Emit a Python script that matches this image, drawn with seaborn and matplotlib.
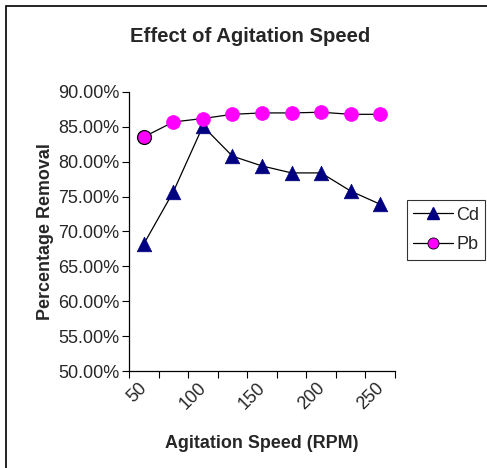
import matplotlib
matplotlib.use("Agg")
import matplotlib.pyplot as plt
import matplotlib.transforms as mtransforms
from matplotlib.lines import Line2D
from matplotlib.patches import Rectangle
from matplotlib.ticker import FixedLocator, PercentFormatter
import seaborn as sns
import pandas as pd

speeds = [50, 75, 100, 125, 150, 175, 200, 225, 250]
cd_removal = [68.2, 75.7, 85.1, 80.8, 79.4, 78.4, 78.4, 75.8, 73.9]
pb_removal = [83.55, 85.7, 86.2, 86.8, 87.0, 87.0, 87.1, 86.8, 86.8]
tick_labels = ["50", "", "100", "", "150", "", "200", "", "250"]

sns.set_theme(style="white")
plt.rcParams['font.family'] = ['Liberation Sans', 'DejaVu Sans']

df = pd.DataFrame({
    "pos": list(range(len(speeds))),
    "Cd": cd_removal,
    "Pb": pb_removal,
})

fig = plt.figure(figsize=(4.87, 4.68), dpi=100)
ax = fig.add_axes([129/487, 1-371/468, (395-129)/487, (371-92)/468])

sns.lineplot(data=df, x="pos", y="Cd", ax=ax, color="black", linewidth=0.9, zorder=2)
sns.lineplot(data=df, x="pos", y="Pb", ax=ax, color="black", linewidth=0.9, zorder=2)
sns.scatterplot(data=df, x="pos", y="Cd", ax=ax, marker="^", s=110, color="#000080",
                edgecolor="#000080", linewidth=0.5, zorder=3)
sns.scatterplot(data=df.iloc[1:], x="pos", y="Pb", ax=ax, marker="o", s=100, color="#FF00FF",
                edgecolor="#FF00FF", linewidth=0.5, zorder=4)
sns.scatterplot(data=df.iloc[:1], x="pos", y="Pb", ax=ax, marker="o", s=100, color="#FF00FF",
                edgecolor="black", linewidth=0.9, zorder=4)

ax.set_xlim(-0.5, len(speeds) - 0.5)
ax.set_ylim(50, 90)
ax.set_yticks([50, 55, 60, 65, 70, 75, 80, 85, 90])
ax.yaxis.set_major_formatter(PercentFormatter(decimals=2))

# category boundary tick marks
ax.xaxis.set_major_locator(FixedLocator([i - 0.5 for i in range(len(speeds) + 1)]))
ax.set_xticklabels([""] * (len(speeds) + 1))
ax.xaxis.set_minor_locator(FixedLocator(list(range(len(speeds)))))
ax.set_xticklabels(tick_labels, minor=True, rotation=45, ha="right",
                   rotation_mode="anchor", fontsize=13)
ax.tick_params(axis="x", which="minor", length=0, pad=6)
offset = mtransforms.ScaledTranslation(-5/100, 0, fig.dpi_scale_trans)
for lab in ax.xaxis.get_minorticklabels():
    lab.set_transform(lab.get_transform() + offset)

ax.tick_params(axis="x", which="major", direction="out", length=5, width=0.8,
               color="black", bottom=True)
ax.tick_params(axis="y", direction="out", length=5, width=0.8, color="black",
               left=True, labelsize=13, pad=2)

for side in ["top", "right"]:
    ax.spines[side].set_visible(False)
for side in ["left", "bottom"]:
    ax.spines[side].set_color("black")
    ax.spines[side].set_linewidth(0.9)

ax.set_xlabel("Agitation Speed (RPM)", fontsize=12.9, fontweight="bold", labelpad=16)
ax.set_ylabel("Percentage Removal", fontsize=12.9, fontweight="bold", labelpad=3)

fig.text(250/487, 1-36/468, "Effect of Agitation Speed", ha="center", va="center",
         fontsize=14.6, fontweight="bold")

handles = [
    Line2D([0], [0], color="black", lw=0.9, marker="^", markersize=9,
           markerfacecolor="#000080", markeredgecolor="#000080"),
    Line2D([0], [0], color="black", lw=0.9, marker="o", markersize=8,
           markerfacecolor="#FF00FF", markeredgecolor="black", markeredgewidth=0.6),
]
leg = fig.legend(handles, ["Cd", "Pb"], loc="center", bbox_to_anchor=(446/487, 1-230/468),
                 fontsize=13, frameon=True, fancybox=False, edgecolor="black",
                 handlelength=2.2, handletextpad=0.2, borderpad=0.35, labelspacing=0.7,
                 borderaxespad=0)
leg.get_frame().set_linewidth(0.8)

fig.patches.append(Rectangle((6/487, -0.1), 2, (1 - 6/468) + 0.1, transform=fig.transFigure,
                             fill=False, edgecolor="black", linewidth=1.2))

fig.savefig("out.png", dpi=100)
